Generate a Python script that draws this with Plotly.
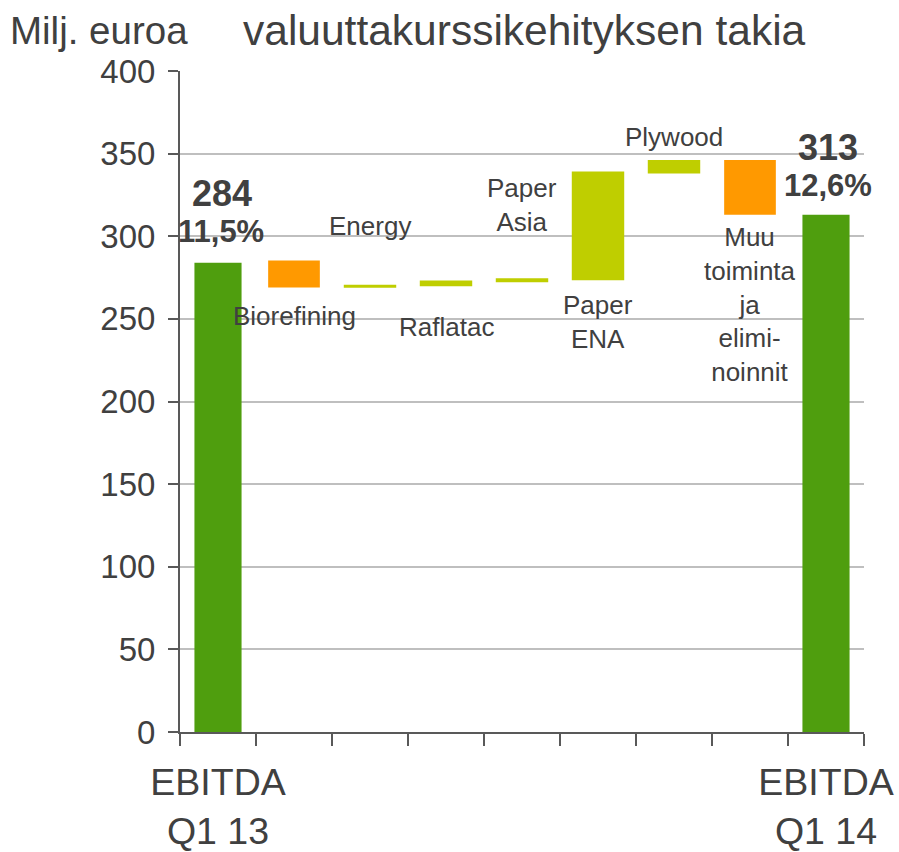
import plotly.graph_objects as go

# ---- data ----
categories = ["EBITDA Q1 13", "Biorefining", "Energy", "Raflatac", "Paper Asia",
              "Paper ENA", "Plywood", "Muu toiminta ja eliminoinnit", "EBITDA Q1 14"]
bar_low = [0, 269, 268.8, 269.8, 272.2, 273.3, 338, 313, 0]
bar_high = [284, 285.3, 270.6, 273.2, 274.6, 339.2, 346.2, 346.2, 313]
kinds = ["total", "decrease", "increase", "increase", "increase",
         "increase", "increase", "decrease", "total"]
tick_labels = ["EBITDA<br>Q1 13", "", "", "", "", "", "", "", "EBITDA<br>Q1 14"]
bar_labels = ["", "Biorefining", "Energy", "Raflatac", "Paper<br>Asia",
              "Paper<br>ENA", "Plywood", "Muu<br>toiminta<br>ja<br>elimi-<br>noinnit", ""]
label_y = [None, 252, 306, 245, 319, 248, 360, 258.5, None]
total_values = ["284", "313"]
margins = ["11,5%", "12,6%"]

colors = {"total": "#4F9E0E", "decrease": "#FF9900", "increase": "#BFCE00"}
widths = {"total": 0.62, "decrease": 0.68, "increase": 0.69}

FONT = "Liberation Sans, Arial, sans-serif"
TXT = "#404040"

fig = go.Figure()
fig.add_trace(go.Bar(
    x=categories,
    y=[h - l for h, l in zip(bar_high, bar_low)],
    base=bar_low,
    marker=dict(color=[colors[k] for k in kinds], line=dict(width=0)),
    width=[widths[k] for k in kinds],
    hoverinfo="skip",
))

ann = []
for c, t, yv in zip(categories, bar_labels, label_y):
    if t:
        ann.append(dict(x=c, y=yv, text=t, showarrow=False, xref="x", yref="y",
                        font=dict(size=26, color=TXT, family=FONT)))

# totals labels
ann.append(dict(x=categories[0], y=bar_high[0] + 42, text="<b>" + total_values[0] + "</b>",
                showarrow=False, xshift=4, font=dict(size=36, color=TXT, family=FONT)))
ann.append(dict(x=categories[0], y=bar_high[0] + 19, text="<b>" + margins[0] + "</b>",
                showarrow=False, xshift=3, font=dict(size=31, color=TXT, family=FONT)))
ann.append(dict(x=categories[-1], y=bar_high[-1] + 41, text="<b>" + total_values[1] + "</b>",
                showarrow=False, xshift=2, font=dict(size=36, color=TXT, family=FONT)))
ann.append(dict(x=categories[-1], y=bar_high[-1] + 18, text="<b>" + margins[1] + "</b>",
                showarrow=False, xshift=2, font=dict(size=31, color=TXT, family=FONT)))

# header texts
ann.append(dict(xref="paper", yref="paper", x=-0.251, y=1.0, yshift=41, xanchor="left",
                yanchor="middle", text="Milj. euroa", showarrow=False,
                font=dict(size=38.5, color=TXT, family=FONT)))
ann.append(dict(xref="paper", yref="paper", x=0.503, y=1.0, yshift=41, xanchor="center",
                yanchor="middle", text="valuuttakurssikehityksen takia", showarrow=False,
                font=dict(size=42.5, color=TXT, family=FONT)))

fig.update_layout(
    width=899, height=852,
    margin=dict(l=180, r=35, t=71, b=120, autoexpand=False),
    plot_bgcolor="white", paper_bgcolor="white",
    showlegend=False,
    annotations=ann,
    font=dict(family=FONT, color=TXT),
)
fig.update_xaxes(
    type="category", automargin=False, range=[-0.5, len(categories) - 0.5],
    tickmode="array", tickvals=categories, ticktext=tick_labels, tickangle=0,
    tickson="boundaries", ticks="outside", ticklen=12, tickwidth=2, tickcolor="#595959",
    showline=True, linecolor="#595959", linewidth=2,
    tickfont=dict(size=37.5, color=TXT, family=FONT),
    ticklabelstandoff=16,
    showgrid=False, zeroline=False,
)
fig.update_yaxes(
    range=[0, 400], tickvals=[0, 50, 100, 150, 200, 250, 300, 350, 400], automargin=False,
    ticks="outside", ticklen=10, tickwidth=2, tickcolor="#595959",
    showline=True, linecolor="#595959", linewidth=2,
    showgrid=True, gridcolor="#BFBFBF", gridwidth=2,
    zeroline=False,
    tickfont=dict(size=33, color=TXT, family=FONT),
    ticklabelstandoff=6,
)

fig.write_html("out.html",
               config={"displayModeBar": False},
               post_script="document.body.style.margin='0';document.body.style.overflow='hidden';")
